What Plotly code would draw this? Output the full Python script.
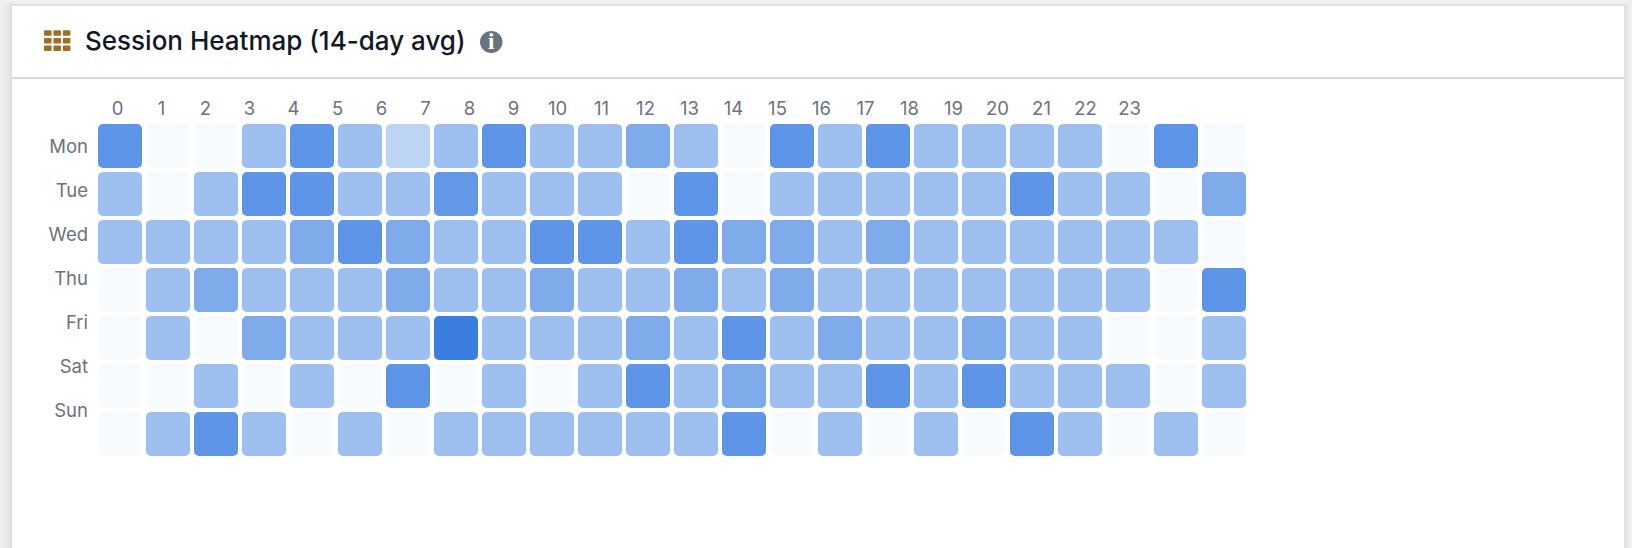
import plotly.graph_objects as go

W, H = 1632, 548

hours = list(range(24))
hour_labels = [str(h) for h in hours]
days = ['Mon', 'Tue', 'Wed', 'Thu', 'Fri', 'Sat', 'Sun']

# intensity per cell (one list per day, hours 0-23)
mon = [.82, .04, .04, .50, .82, .50, .33, .50, .82, .50, .50, .65, .50, .04, .82, .50, .82, .50, .50, .50, .50, .04, .82, .04]
tue = [.50, .04, .50, .82, .82, .50, .50, .80, .50, .50, .50, .04, .82, .04, .50, .50, .50, .50, .50, .82, .50, .50, .04, .65]
wed = [.50, .50, .50, .50, .65, .82, .65, .50, .50, .82, .82, .50, .82, .65, .65, .50, .65, .50, .50, .50, .50, .50, .50, .04]
thu = [.04, .50, .65, .50, .50, .50, .65, .50, .50, .65, .50, .50, .65, .50, .65, .50, .50, .50, .50, .50, .50, .50, .04, .82]
fri = [.04, .50, .04, .65, .50, .50, .50, 1.0, .50, .50, .50, .65, .50, .82, .50, .65, .50, .50, .65, .50, .50, .04, .04, .50]
sat = [.04, .04, .50, .04, .50, .04, .82, .04, .50, .04, .50, .82, .50, .65, .50, .50, .82, .50, .82, .50, .50, .50, .04, .50]
sun = [.04, .50, .82, .50, .04, .50, .04, .50, .50, .50, .50, .50, .50, .82, .04, .50, .04, .50, .04, .82, .50, .04, .50, .04]
rows = [mon, tue, wed, thu, fri, sat, sun]

cell_x = [h for d in days for h in hours]
cell_y = [j for j in range(len(days)) for h in hours]
cell_v = [v for r in rows for v in r]

colorscale = [[0, '#ffffff'], [1, '#3b7ee0']]


def px(x):
    return x / W


def py(y):
    return 1 - y / H


def rounded(x0, y0, x1, y1, r):
    return (f'M {px(x0 + r)} {py(y0)} L {px(x1 - r)} {py(y0)} Q {px(x1)} {py(y0)} {px(x1)} {py(y0 + r)} '
            f'L {px(x1)} {py(y1 - r)} Q {px(x1)} {py(y1)} {px(x1 - r)} {py(y1)} '
            f'L {px(x0 + r)} {py(y1)} Q {px(x0)} {py(y1)} {px(x0)} {py(y1 - r)} '
            f'L {px(x0)} {py(y0 + r)} Q {px(x0)} {py(y0)} {px(x0 + r)} {py(y0)} Z')


fig = go.Figure()

# the cells, 48px pitch
fig.add_trace(go.Scatter(
    x=cell_x, y=cell_y, mode='markers', xaxis='x', yaxis='y',
    marker=dict(symbol='square', size=34, color=cell_v, colorscale=colorscale, cmin=0, cmax=1,
                line=dict(width=10, color=cell_v, colorscale=colorscale, cmin=0, cmax=1)),
    hovertemplate='%{x}h: %{marker.color}<extra></extra>', showlegend=False))

# the labels sit on a tighter 44px pitch than the cells, so they get their own axes
fig.add_trace(go.Scatter(
    x=hours, y=[0] * len(hours), mode='markers', xaxis='x2', yaxis='y2',
    marker=dict(opacity=0), hoverinfo='skip', showlegend=False))
fig.add_trace(go.Scatter(
    x=[0] * len(days), y=list(range(len(days))), mode='markers', xaxis='x2', yaxis='y2',
    marker=dict(opacity=0), hoverinfo='skip', showlegend=False))

shapes = []
# soft card shadow
for grow, alpha in [(11, .008), (9, .010), (7, .012), (5, .014), (3, .016), (1, .020)]:
    shapes.append(dict(type='path', path=rounded(12 - grow, 6 - grow * .4, 1624 + grow * .7, 570, 2), xref='paper', yref='paper',
                       fillcolor=f'rgba(40,40,50,{alpha})', line_width=0, layer='below'))
shapes.append(dict(type='path', path=rounded(12, 6, 1624, 556, 10), xref='paper', yref='paper',
                   fillcolor='white', line_width=0, layer='below'))
shapes.append(dict(type='rect', x0=px(12), x1=px(1624), y0=py(6), y1=py(30), xref='paper', yref='paper',
                   fillcolor='white', line_width=0, layer='below'))
# header rule
shapes.append(dict(type='rect', x0=px(12), x1=px(1624), y0=py(77), y1=py(79), xref='paper', yref='paper',
                   fillcolor='#d9d9dd', line_width=0, layer='below'))
# grid icon
for ix in range(3):
    for iy in range(3):
        x0 = 44 + ix * 9.4
        y0 = 30.3 + iy * 7.6
        shapes.append(dict(type='path', path=rounded(x0, y0, x0 + 7.6, y0 + 5.5, 1.2), xref='paper', yref='paper',
                           fillcolor='#9c6f24', line_width=0, layer='below'))
# info icon
shapes.append(dict(type='circle', x0=px(480), x1=px(502.5), y0=py(31), y1=py(53), xref='paper', yref='paper',
                   fillcolor='#6b7280', line_width=0, layer='below'))

fig.update_layout(
    width=W, height=H,
    margin=dict(l=0, r=0, t=0, b=0),
    paper_bgcolor='#f0f1f2',
    plot_bgcolor='rgba(0,0,0,0)',
    font=dict(family='Inter, "Noto Sans", sans-serif', color='#6b7280', size=18.5),
    hovermode='closest',
    shapes=shapes,
    xaxis=dict(domain=[0, 1], range=[-2.5, 31.5], visible=False, fixedrange=True),
    yaxis=dict(domain=[0, 1], range=[8.375, -3.0417], visible=False, fixedrange=True),
    xaxis2=dict(domain=[px(92), 1], range=[-0.5795, 34.42], anchor='y2', side='top',
                tickmode='array', tickvals=hours, ticktext=hour_labels,
                showgrid=False, zeroline=False, showline=False, ticks='', tickangle=0, fixedrange=True),
    yaxis2=dict(domain=[0, py(120)], range=[9.129, -0.598], anchor='x2', side='left',
                tickmode='array', tickvals=list(range(len(days))), ticktext=days, ticklabelstandoff=3,
                showgrid=False, zeroline=False, showline=False, ticks='', fixedrange=True),
    annotations=[
        dict(x=px(83), y=py(41), xref='paper', yref='paper', text='Session Heatmap (14-day avg)', showarrow=False,
             xanchor='left', yanchor='middle',
             font=dict(size=26, weight=500, color='#111827', family='Inter, sans-serif')),
        dict(x=px(491.2), y=py(42), xref='paper', yref='paper', text='<b>i</b>', showarrow=False,
             xanchor='center', yanchor='middle', font=dict(size=23, color='white', family='Liberation Serif, serif')),
    ],
)

post = """
document.body.style.margin = '0';
document.querySelectorAll('.scatterlayer .point').forEach(function (p) {
    p.style.strokeLinejoin = 'round';
});
"""

fig.write_html("out.html", post_script=post, config=dict(displayModeBar=False))
